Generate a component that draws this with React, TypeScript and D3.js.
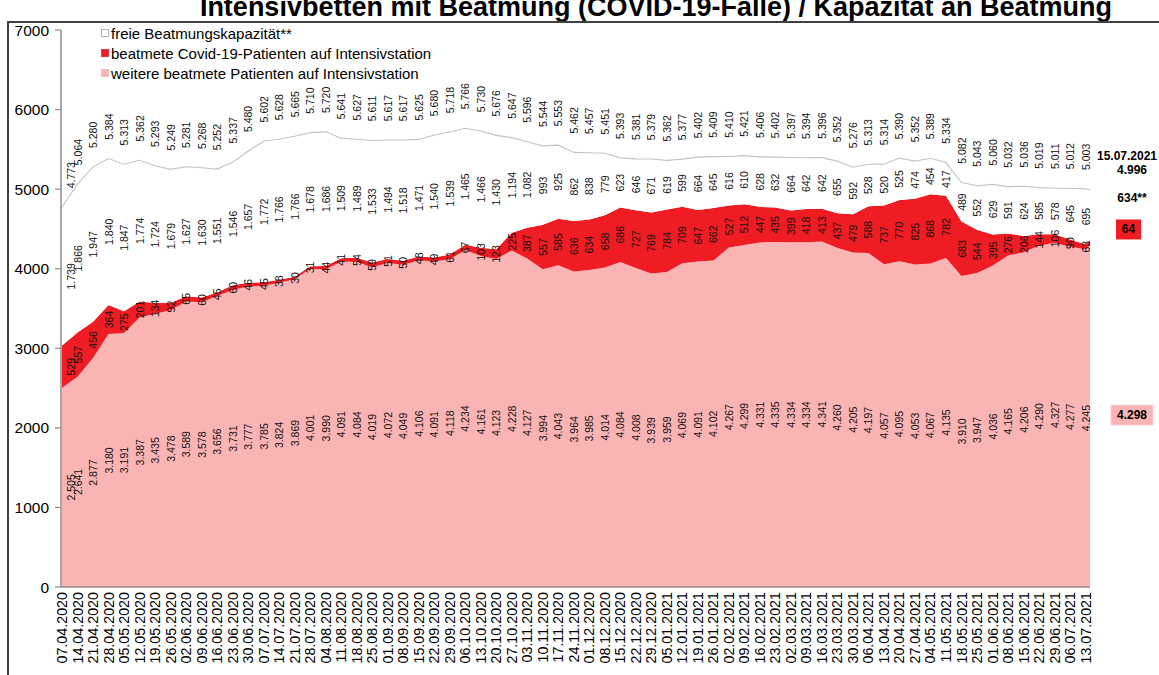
import React from "react";
import * as d3 from "d3";

const weekLabels = [
  "07.04.2020","14.04.2020","21.04.2020","28.04.2020","05.05.2020","12.05.2020","19.05.2020","26.05.2020",
  "02.06.2020","09.06.2020","16.06.2020","23.06.2020","30.06.2020","07.07.2020","14.07.2020","21.07.2020",
  "28.07.2020","04.08.2020","11.08.2020","18.08.2020","25.08.2020","01.09.2020","08.09.2020","15.09.2020",
  "22.09.2020","29.09.2020","06.10.2020","13.10.2020","20.10.2020","27.10.2020","03.11.2020","10.11.2020",
  "17.11.2020","24.11.2020","01.12.2020","08.12.2020","15.12.2020","22.12.2020","29.12.2020","05.01.2021",
  "12.01.2021","19.01.2021","26.01.2021","02.02.2021","09.02.2021","16.02.2021","23.02.2021","02.03.2021",
  "09.03.2021","16.03.2021","23.03.2021","30.03.2021","06.04.2021","13.04.2021","20.04.2021","27.04.2021",
  "04.05.2021","11.05.2021","18.05.2021","25.05.2021","01.06.2021","08.06.2021","15.06.2021","22.06.2021",
  "29.06.2021","06.07.2021","13.07.2021",
];

// weitere beatmete Patienten auf Intensivstation
const otherVent = [
  2505,2641,2877,3180,3191,3387,3435,3478,3589,3578,3656,3731,3777,3785,3824,3869,
  4001,3990,4091,4084,4019,4072,4049,4106,4091,4118,4234,4161,4123,4228,4127,3994,
  4043,3964,3985,4014,4084,4008,3939,3959,4069,4091,4102,4267,4299,4331,4335,4334,
  4334,4341,4260,4205,4197,4057,4095,4053,4067,4135,3910,3947,4036,4165,4206,4290,
  4327,4277,4245,
];

// beatmete Covid-19-Patienten auf Intensivstation
const covidVent = [
  529,557,456,364,275,201,134,92,65,60,45,60,46,45,38,30,
  31,44,41,54,59,51,50,48,49,61,67,103,123,225,387,557,
  585,636,634,658,686,727,769,784,709,647,662,527,512,447,435,399,
  418,413,437,479,588,737,770,825,868,782,683,544,395,276,206,144,
  106,90,63,
];

// freie Beatmungskapazität
const freeCap = [
  1739,1866,1947,1840,1847,1774,1724,1679,1627,1630,1551,1546,1657,1772,1766,1766,
  1678,1686,1509,1489,1533,1494,1518,1471,1540,1539,1465,1466,1430,1194,1082,993,
  925,862,838,779,623,646,671,619,599,664,645,616,610,628,632,664,
  642,642,655,592,528,520,525,474,454,417,489,552,629,591,624,585,
  578,645,695,
];

// latest day
const latestDate = "15.07.2021";
const latestOther = 4298;
const latestCovid = 64;
const latestFree = 634;

const yTicks = [0, 1000, 2000, 3000, 4000, 5000, 6000, 7000];

const legendItems = [
  { label: "freie Beatmungskapazität**", fill: "#FFFFFF", stroke: "#A0A0A0" },
  { label: "beatmete Covid-19-Patienten auf Intensivstation", fill: "#EF1D23", stroke: "#EF1D23" },
  { label: "weitere beatmete Patienten auf Intensivstation", fill: "#FAB4B4", stroke: "#FAB4B4" },
];

const title = "Intensivbetten mit Beatmung (COVID-19-Fälle) / Kapazität an Beatmung";

const PINK = "#FAB4B4";
const RED = "#EF1D23";
const FONT = "Arial, 'Liberation Sans', Helvetica, sans-serif";

const parse = d3.timeParse("%d.%m.%Y");
const de = d3.formatLocale({ decimal: ",", thousands: ".", grouping: [3], currency: ["", "€"] });
const fmt = de.format(",");

export default function App() {
  const W = 1159, H = 675;
  const dates = [...weekLabels, latestDate].map((s) => parse(s) as Date);
  const other = [...otherVent, latestOther];
  const covid = [...covidVent, latestCovid];
  const free = [...freeCap, latestFree];
  const n = dates.length;
  const idx = d3.range(n);

  const x = d3.scaleTime().domain([dates[0], dates[n - 1]]).range([62, 1090]);
  const y = d3.scaleLinear().domain([0, 7000]).range([587, 30]);

  const areaOther = d3.area<number>().x((i) => x(dates[i])).y0(() => y(0)).y1((i) => y(other[i]));
  const areaCovid = d3.area<number>().x((i) => x(dates[i])).y0((i) => y(other[i])).y1((i) => y(other[i] + covid[i]));
  const areaFree = d3.area<number>().x((i) => x(dates[i])).y0((i) => y(other[i] + covid[i])).y1((i) => y(other[i] + covid[i] + free[i]));
  const lineTotal = d3.line<number>().x((i) => x(dates[i])).y((i) => y(other[i] + covid[i] + free[i]));

  const weekIdx = d3.range(weekLabels.length);
  const lx = (i: number) => Math.max(71, x(dates[i]));

  const vLabel = (key: string, cx: number, cy: number, t: string) => (
    <text key={key} transform={`translate(${cx},${cy}) rotate(-90)`} textAnchor="middle" dominantBaseline="central"
      fontSize={10.5} fontFamily={FONT} fill="#111">{t}</text>
  );

  const last = n - 1;
  const lastTotal = other[last] + covid[last] + free[last];
  const rx = 1132;

  return (
    <svg width={W} height={H} style={{ position: "absolute", left: 0, top: 0, background: "#fff" }}>
      <text x={1112} y={16} textAnchor="end" fontSize={27} fontWeight="bold" fontFamily={FONT} fill="#000">{title}</text>
      <rect x={8} y={22} width={1200} height={700} fill="none" stroke="#404040" strokeWidth={2} />

      {/* areas */}
      <path d={areaOther(idx) || ""} fill={PINK} />
      <path d={areaCovid(idx) || ""} fill={RED} />
      <path d={areaFree(idx) || ""} fill="#FFFFFF" />
      <path d={lineTotal(idx) || ""} fill="none" stroke="#C4C4C4" strokeWidth={1.1} />

      {/* axes */}
      <line x1={61} x2={61} y1={30} y2={587} stroke="#8C8C8C" strokeWidth={1.5} />
      <line x1={61} x2={x(dates[last])} y1={587} y2={587} stroke="#8C8C8C" strokeWidth={1.5} />
      {yTicks.map((t) => (
        <g key={t}>
          <line x1={55} x2={61} y1={y(t)} y2={y(t)} stroke="#8C8C8C" strokeWidth={1.2} />
          <text x={49} y={y(t)} textAnchor="end" dominantBaseline="central" fontSize={15.5} fontFamily={FONT} fill="#000">{t}</text>
        </g>
      ))}
      {weekIdx.map((i) => (
        <text key={"xl" + i} transform={`translate(${x(dates[i])},592) rotate(-90)`} textAnchor="end" dominantBaseline="central"
          fontSize={14.3} fontFamily={FONT} fill="#000">{weekLabels[i]}</text>
      ))}

      {/* data labels */}
      {weekIdx.map((i) => vLabel("o" + i, lx(i), y(other[i] / 2), fmt(other[i])))}
      {weekIdx.map((i) => vLabel("c" + i, lx(i), y(other[i] + covid[i] / 2), fmt(covid[i])))}
      {weekIdx.map((i) => vLabel("f" + i, lx(i), y(other[i] + covid[i] + free[i] / 2), fmt(free[i])))}
      {weekIdx.map((i) => vLabel("t" + i, lx(i), y(other[i] + covid[i] + free[i]) - 32, fmt(other[i] + covid[i] + free[i])))}

      {/* latest-day annotations */}
      <text x={1127} y={y(lastTotal) - 33} textAnchor="middle" dominantBaseline="central" fontSize={12} fontWeight="bold" fontFamily={FONT}>{latestDate}</text>
      <text x={rx} y={y(lastTotal) - 19} textAnchor="middle" dominantBaseline="central" fontSize={12} fontWeight="bold" fontFamily={FONT}>{fmt(lastTotal)}</text>
      <text x={rx} y={y(other[last] + covid[last] + free[last] / 2) - 17} textAnchor="middle" dominantBaseline="central" fontSize={12} fontWeight="bold" fontFamily={FONT}>{fmt(free[last]) + "**"}</text>
      <rect x={1116} y={y(other[last] + covid[last] / 2) - 23} width={25} height={20} fill={RED} />
      <text x={1128.5} y={y(other[last] + covid[last] / 2) - 13} textAnchor="middle" dominantBaseline="central" fontSize={12} fontWeight="bold" fontFamily={FONT}>{fmt(covid[last])}</text>
      <rect x={1111} y={y(other[last] / 2) - 11} width={42} height={20} fill={PINK} stroke="#F7D0D0" />
      <text x={1132} y={y(other[last] / 2) - 1} textAnchor="middle" dominantBaseline="central" fontSize={12} fontWeight="bold" fontFamily={FONT}>{fmt(other[last])}</text>

      {/* legend */}
      {legendItems.map((it, k) => (
        <g key={it.label}>
          <rect x={101.5} y={29.5 + k * 20} width={7} height={7} fill={it.fill} stroke={it.stroke} strokeWidth={0.8} />
          <text x={111} y={33 + k * 20} dominantBaseline="central" fontSize={15} fontFamily={FONT} fill="#000">{it.label}</text>
        </g>
      ))}
    </svg>
  );
}
